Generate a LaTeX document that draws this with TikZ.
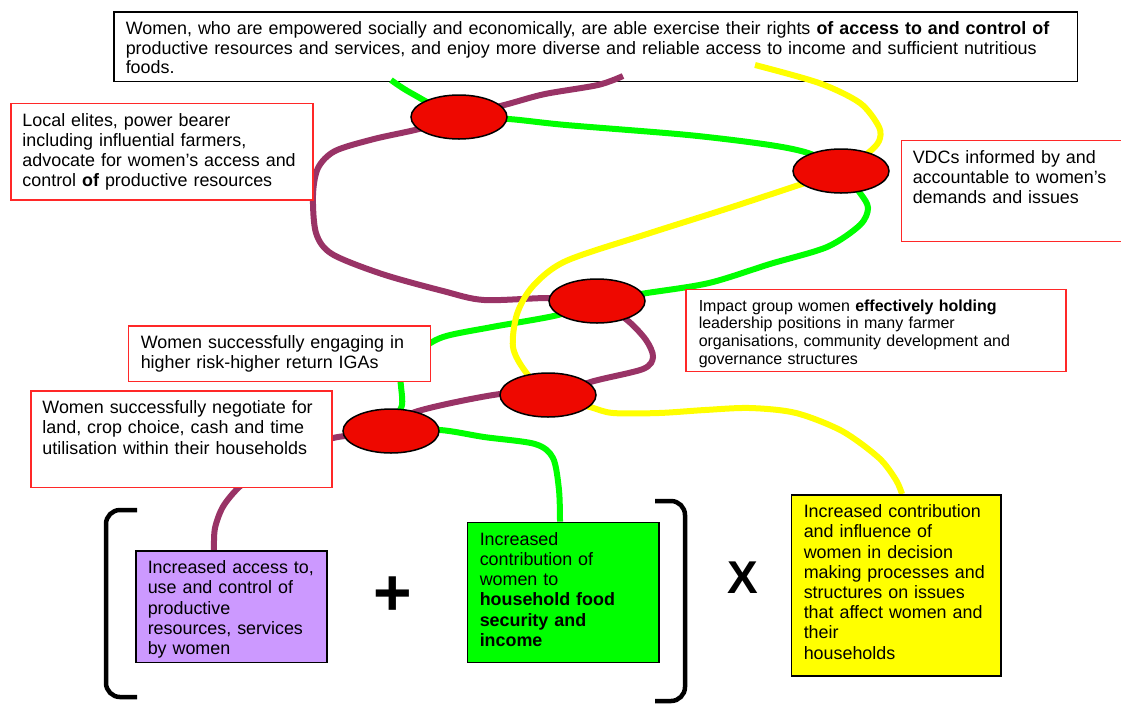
\documentclass[tikz,border=0pt]{standalone}
\usepackage{fontspec}
\setmainfont{Liberation Sans}
\usetikzlibrary{shapes.geometric}
\definecolor{pathpurple}{RGB}{153,51,102}
\definecolor{pathgreen}{RGB}{0,255,0}
\definecolor{pathyellow}{RGB}{255,255,0}
\definecolor{knotred}{RGB}{238,8,0}
\definecolor{framered}{RGB}{255,40,40}
\definecolor{lilac}{RGB}{204,153,255}
\pgfdeclarelayer{bg}
\pgfdeclarelayer{paths}
\pgfsetlayers{bg,paths,main}
\tikzset{
  txtbox/.style={anchor=north west, align=left, inner ysep=0pt, text height=23pt,
    font=\fontsize{17.9pt}{20.2pt}\selectfont},
  redbox/.style={txtbox, draw=framered, line width=1.5pt, fill=white},
  outbox/.style={txtbox, draw=black, line width=1.5pt},
  knot/.style={ellipse, draw=black, line width=1.5pt, fill=knotred,
    minimum width=96pt, minimum height=44pt, inner sep=0pt},
  strand/.style={line width=6pt},
  bracket/.style={line width=4.5pt, rounded corners=14pt},
  sign/.style={inner sep=0pt, font=#1},
}

\begin{document}
\begin{tikzpicture}[x=1pt,y=-1pt]
  \useasboundingbox (0,0) rectangle (1121,705);
  % Goal box
  \begin{pgfonlayer}{bg}
  \node[outbox, fill=white, inner xsep=12pt, text width=939.5pt, text depth=46.5pt,
    font=\fontsize{17.9pt}{19.5pt}\selectfont] (goal) at (113,11)
    {Women, who are empowered socially and economically, are able exercise their rights \textbf{of access to and control of}\\
     productive resources and services, and enjoy more diverse and reliable access to income and sufficient nutritious\\
     foods.};
  \end{pgfonlayer}
  % Red boxes
  \node[redbox, inner xsep=11.7pt, text width=278.6pt, text depth=73.5pt] (elites) at (10,102.5)
    {Local elites, power bearer\\ including influential farmers,\\ advocate for women’s access and\\ control \textbf{of} productive resources};
  \node[redbox, inner xsep=11.5pt, text width=201.5pt, text depth=78pt] (vdc) at (900.5,139.5)
    {VDCs informed by and\\ accountable to women’s\\ demands and issues};
  \node[redbox, inner xsep=13pt, text width=354pt, text height=22pt, text depth=60pt,
    font=\fontsize{16pt}{17.7pt}\selectfont] (impact) at (685,288.5)
    {Impact group women \textbf{effectively holding}\\ leadership positions in many farmer\\ organisations, community development and\\ governance structures};
  \node[redbox, inner xsep=12.5pt, text width=277pt, text depth=32.5pt] (iga) at (127.5,325)
    {Women successfully engaging in\\ higher risk-higher return IGAs};
  \node[redbox, inner xsep=11.7pt, text width=277.6pt, text depth=73.5pt] (negotiate) at (30,390)
    {Women successfully negotiate for\\ land, crop choice, cash and time\\ utilisation within their households};
  % Outcome boxes
  \node[outbox, fill=lilac, inner xsep=12pt, text width=167pt, text depth=88.5pt] (access) at (135,550)
    {Increased access to,\\ use and control of\\ productive\\ resources, services\\ by women};
  \node[outbox, fill=pathgreen, inner xsep=12.5pt, text width=166.5pt, text depth=117pt] (food) at (466.5,521.5)
    {Increased\\ contribution of\\ women to\\ \textbf{household food}\\ \textbf{security and}\\ \textbf{income}};
  \node[outbox, fill=pathyellow, inner xsep=12.5pt, text width=184.5pt, text depth=158pt] (voice) at (790.5,494)
    {Increased contribution\\ and influence of\\ women in decision\\ making processes and\\ structures on issues\\ that affect women and\\ their\\ households};
  % Knots
  \node[knot] (eA) at (459,117) {};
  \node[knot] (eB) at (841,171) {};
  \node[knot] (eC) at (597,301) {};
  \node[knot] (eD) at (548,395) {};
  \node[knot] (eE) at (391,431) {};
  % Free ends
  \coordinate (pTop) at (623,76);
  \coordinate (gTop) at (391,80);
  \coordinate (yTop) at (755,65);
  \coordinate (pEnd) at ([xshift=79pt]access.north west);
  \coordinate (gEnd) at ([xshift=93.5pt]food.north west);
  \coordinate (yEnd) at ([xshift=111.5pt]voice.north west);
  % Strands
  \begin{pgfonlayer}{paths}
  \draw[strand, pathpurple] plot[smooth] coordinates {
    (pTop) (598,85) (545,94) (508,104) (eA.center) (419,129) (374,139)
    (335,151) (318,168) (313,195) (316,233) (332,254) (382,274) (443,291)
    (484,300) (549,298) (eC.center) (627,320) (646,340) (653,357) (643,369)
    (594,381) (eD.center) (500,394) (415,412) (eE.center) (333,438)
    (285,458) (245,482) (224,505) (215,528) (pEnd)};
  \draw[strand, pathgreen] plot[smooth] coordinates {
    (gTop) (411,93) (eA.center) (509,119) (566,125) (688,135) (770,145) (811,154)
    (eB.center) (860,193) (868,208) (860,225) (827,247) (770,264) (709,283) (647,293)
    (eC.center) (558,315) (492,327) (443,337) (418,352) (401,372) (402,405)
    (eE.center) (440,430) (484,437) (535,444) (553,458) (559,490) (gEnd)};
  \draw[strand, pathyellow] plot[smooth] coordinates {
    (yTop) (819,83) (860,103) (879,127) (879,141) (868,153) (eB.center)
    (802,184) (729,208) (647,234) (566,261) (533,286) (517,314) (513,347) (525,371)
    (eD.center) (590,407) (613,413) (659,413) (705,410) (750,408) (796,413)
    (842,431) (879,458) (896,480) (yEnd)};
  \end{pgfonlayer}
  % Brackets and signs
  \draw[bracket] (137,510) -- (106,510) -- (106,697) -- (137,697);
  \draw[bracket] (655,501) -- (685,501) -- (685,701) -- (655,701);
  \node[sign=\fontsize{66pt}{66pt}\selectfont\bfseries] (plus) at (393,596) {+};
  \node[sign=\fontsize{46pt}{46pt}\selectfont\bfseries] (times) at (743,578) {X};
\end{tikzpicture}
\end{document}
